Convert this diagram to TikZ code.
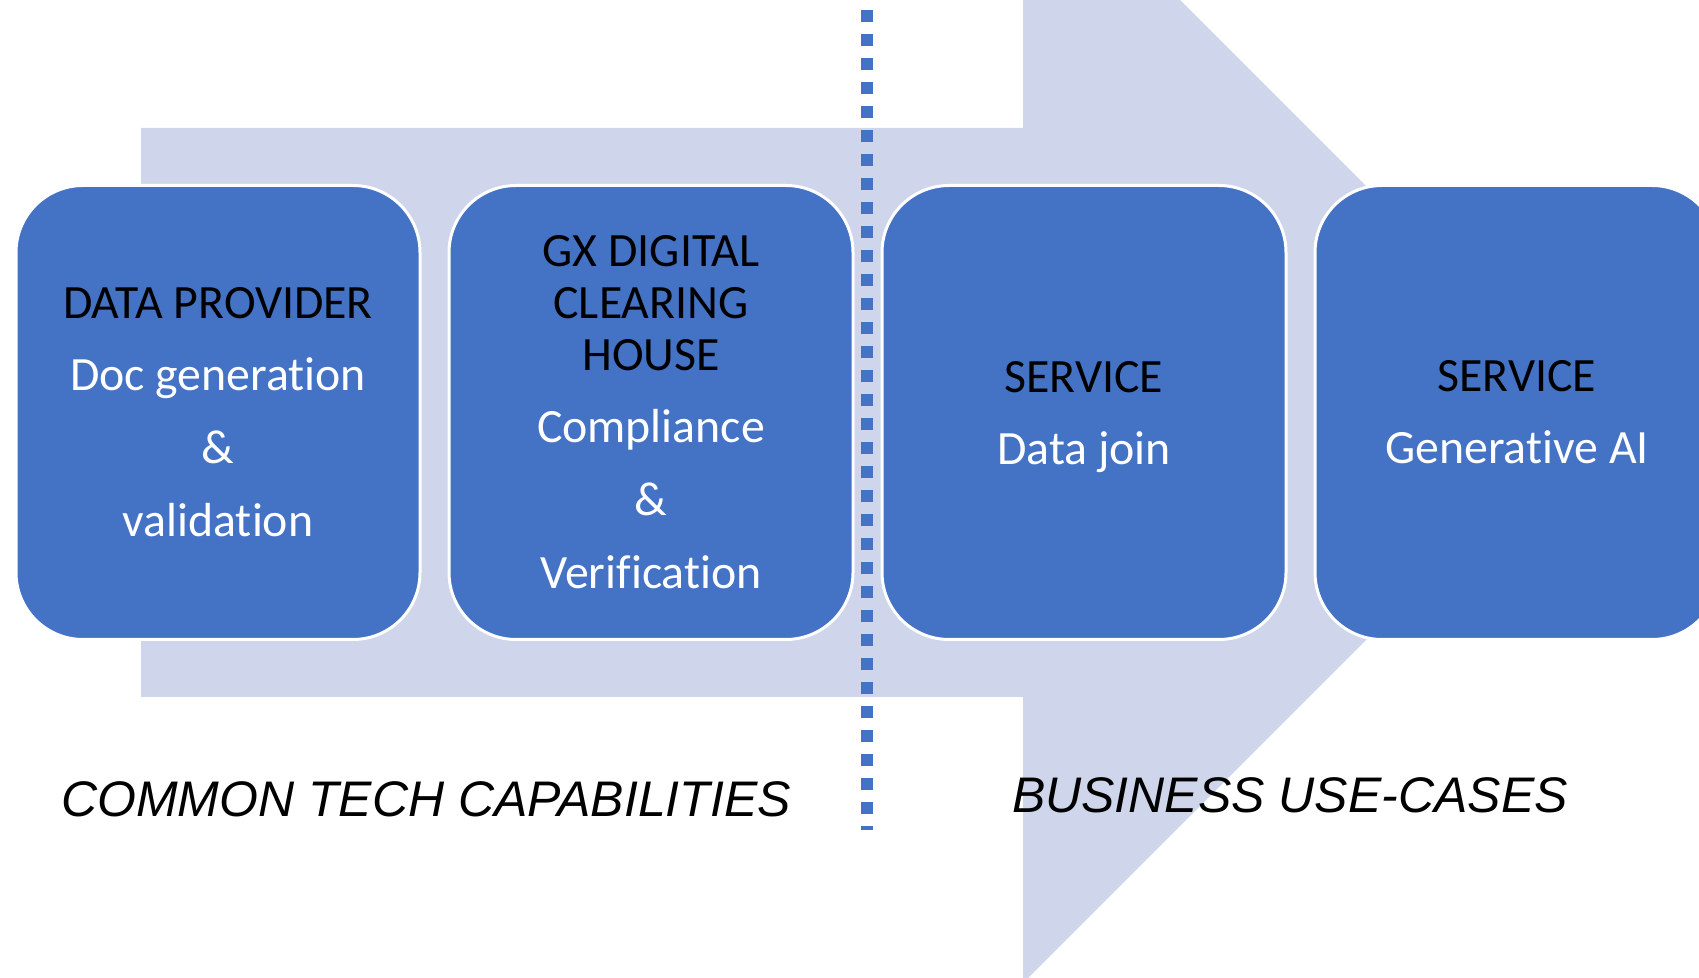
\documentclass[tikz,border=0pt]{standalone}
\usepackage{fontspec}
\setmainfont{Carlito}[Ligatures=NoCommon]
\newfontfamily\arialf{Liberation Sans}
\definecolor{boxblue}{HTML}{4472C4}
\definecolor{arrowfill}{HTML}{CFD5EA}
\begin{document}
\begin{tikzpicture}[x=0.5pt,y=-0.5pt,
  cardbox/.style={draw=white,line width=1.5pt,fill=boxblue,rounded corners=33.5pt,
    minimum width=202pt,minimum height=227pt,align=center,inner sep=0pt,
    font=\fontsize{23.9}{26}\selectfont},
  sidelabel/.style={font=\arialf\itshape\fontsize{25}{28}\selectfont,anchor=base,inner sep=0pt}]
\useasboundingbox (0,0) rectangle (1699,978);
\clip (0,0) rectangle (1699,978);
\fill[arrowfill] (141,128) -- (1023,128) -- (1023,-157) -- (1593,413) -- (1023,983) -- (1023,697) -- (141,697) -- cycle;
\coordinate (dtop) at (867,10);
\coordinate (dbot) at (867,830);
\draw[boxblue,line width=6pt,dash pattern=on 6pt off 6pt] (dtop) -- (dbot);
\node[cardbox] (b1) at (218,412.5) {DATA PROVIDER\\[10pt]\textcolor{white}{Doc generation}\\[10.5pt]\textcolor{white}{\&}\\[10.5pt]\textcolor{white}{validation}};
\node[cardbox] (b2) at (651,412.5) {GX DIGITAL\\CLEARING\\HOUSE\\[10pt]\textcolor{white}{Compliance}\\[10.5pt]\textcolor{white}{\&}\\[10.5pt]\textcolor{white}{Verification}};
\node[cardbox] (b3) at (1084,412.5) {SERVICE\\[10pt]\textcolor{white}{\smash{Data join}}};
\node[cardbox] (b4) at (1517,412.5) {SERVICE\\[10pt]\textcolor{white}{Generative AI}};
\node[sidelabel] (l1) at (426,816) {COMMON TECH CAPABILITIES};
\node[sidelabel] (l2) at (1290,812) {BUSINESS USE-CASES};
\end{tikzpicture}
\end{document}
